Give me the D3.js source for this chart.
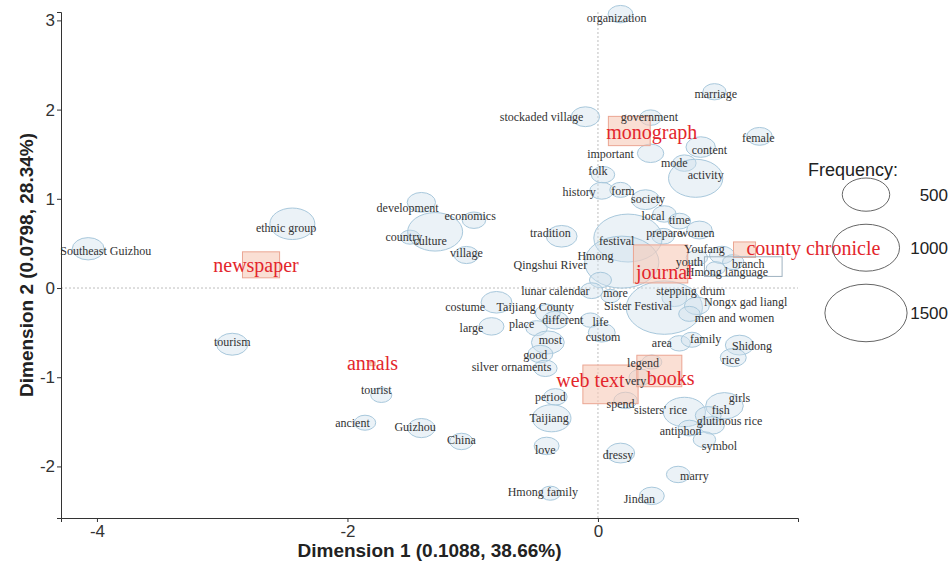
<!DOCTYPE html>
<html>
<head>
<meta charset="utf-8">
<script src="https://cdn.jsdelivr.net/npm/d3@7"></script>
<style>
  body { margin: 0; background: #fff; }
  svg { display: block; }
</style>
</head>
<body>
<svg id="chart" width="950" height="565"></svg>
<script>
// Correspondence analysis: words (ellipses) and text sources (boxes)
const words = ["organization","marriage","stockaded village","government","female","important","content","mode","activity","folk",
  "history","form","society","local","time","prepare","women","festival","Hmong","tradition",
  "youth","Youfang","branch","Hmong language","Qingshui River","lunar calendar","more","stepping drum","costume","Taijiang County",
  "Sister Festival","Nongx gad liangl","men and women","different","life","large","place","custom","most","area",
  "family","Shidong","rice","good","silver ornaments","legend","very","tourist","ancient","Guizhou",
  "China","period","Taijiang","love","Hmong family","spend","sisters' rice","girls","fish","glutinous rice",
  "antiphon","symbol","dressy","marry","Jindan","tourism","Southeast Guizhou","ethnic group","development","economics",
  "country","culture","village"];

const wordX = [0.18,0.93,-0.10,0.42,1.29,0.42,0.82,0.69,0.78,0.04,
  0.03,0.18,0.38,0.53,0.65,0.52,0.81,0.24,0.19,-0.29,
  0.79,0.99,1.08,0.94,0.02,-0.05,0.10,0.61,-0.81,-0.40,
  0.53,0.79,0.73,-0.34,-0.06,-0.85,-0.49,0.03,-0.40,0.65,
  0.75,1.13,1.08,-0.46,-0.42,0.43,0.34,-1.73,-1.86,-1.41,
  -1.09,-0.34,-0.37,-0.41,-0.38,0.22,0.69,1.01,0.88,0.91,
  0.73,0.85,0.18,0.64,0.43,-2.92,-4.07,-2.44,-1.41,-0.99,
  -1.50,-1.30,-1.05];

const wordY = [3.07,2.20,1.92,1.91,1.70,1.51,1.58,1.40,1.23,1.27,
  1.09,1.10,0.99,0.83,0.75,0.58,0.65,0.56,0.29,0.58,
  0.34,0.37,0.29,0.22,0.09,-0.03,-0.09,-0.11,-0.16,-0.28,
  -0.22,-0.20,-0.29,-0.36,-0.36,-0.43,-0.45,-0.50,-0.61,-0.62,
  -0.58,-0.64,-0.78,-0.74,-0.90,-0.83,-1.00,-1.20,-1.51,-1.57,
  -1.72,-1.22,-1.46,-1.77,-2.30,-1.26,-1.39,-1.32,-1.43,-1.54,
  -1.57,-1.70,-1.85,-2.09,-2.33,-0.63,0.44,0.72,0.96,0.76,
  0.57,0.63,0.37];

const wordFreq = [137,119,178,108,144,154,192,122,655,122,
  128,102,178,122,112,112,144,1040,1225,211,
  102,138,102,81,108,112,81,138,211,138,
  1290,138,102,143,93,138,102,161,239,107,
  102,178,150,138,122,89,117,99,102,166,
  122,122,333,138,89,122,394,315,148,138,
  112,112,178,122,138,218,225,449,178,122,
  89,672,133];

// label anchors (repelled positions, in dimension units)
const labelX = [0.15,0.94,-0.45,0.41,1.28,0.10,0.89,0.61,0.86,0.00,
  -0.15,0.20,0.40,0.44,0.65,0.53,0.79,0.15,-0.02,-0.38,
  0.73,0.85,1.20,1.03,-0.38,-0.34,0.14,0.74,-1.06,-0.50,
  0.32,1.18,1.09,-0.28,0.02,-1.01,-0.61,0.04,-0.38,0.51,
  0.86,1.23,1.06,-0.50,-0.69,0.36,0.30,-1.77,-1.96,-1.46,
  -1.09,-0.38,-0.39,-0.42,-0.44,0.18,0.50,1.13,0.98,1.05,
  0.66,0.97,0.16,0.77,0.33,-2.92,-3.93,-2.49,-1.52,-1.02,
  -1.55,-1.34,-1.05];

const labelY = [3.03,2.17,1.91,1.91,1.68,1.50,1.54,1.40,1.27,1.31,
  1.08,1.09,1.00,0.80,0.76,0.61,0.61,0.52,0.36,0.62,
  0.29,0.44,0.27,0.18,0.26,-0.04,-0.06,-0.04,-0.21,-0.22,
  -0.20,-0.16,-0.34,-0.36,-0.38,-0.45,-0.41,-0.55,-0.58,-0.62,
  -0.57,-0.65,-0.81,-0.75,-0.89,-0.84,-1.04,-1.15,-1.52,-1.56,
  -1.70,-1.22,-1.46,-1.82,-2.29,-1.30,-1.37,-1.23,-1.37,-1.49,
  -1.60,-1.77,-1.87,-2.11,-2.37,-0.61,0.41,0.67,0.90,0.80,
  0.57,0.52,0.39];

const sources = ["monograph","newspaper","journal","county chronicle","annals","web text","books"];
const sourceX = [0.25,-2.69,0.50,1.17,-1.80,0.10,0.49];
const sourceY = [1.76,0.26,0.27,0.43,-0.85,-1.08,-0.93];
const sourceFreq = [388,306,655,108,6,677,449];
const sourceLabelX = [0.43,-2.73,0.53,1.72,-1.80,-0.06,0.58];
const sourceLabelY = [1.74,0.25,0.17,0.44,-0.85,-1.04,-1.02];

// outlined label frame near "branch"
const frameX = [0.85,1.47];
const frameY = [0.13,0.35];

const legendValues = [500,1000,1500];
const xTicks = [-4,-2,0];
const yTicks = [-2,-1,0,1,2,3];
const xTitle = "Dimension 1 (0.1088, 38.66%)";
const yTitle = "Dimension 2 (0.0798, 28.34%)";

const svg = d3.select("#chart");
const plot = {left: 61, right: 798, top: 12, bottom: 518};

const x = d3.scaleLinear().domain([-4.287, 1.597]).range([plot.left, plot.right]);
const y = d3.scaleLinear().domain([-2.578, 3.094]).range([plot.bottom, plot.top]);
const rx = d3.scaleSqrt().domain([0, 1500]).range([0, 41.1]);
const ryOf = f => rx(f) * 0.70;

const serif = "'Liberation Serif','Times New Roman',serif";
const sans = "'Liberation Sans',Arial,sans-serif";

// reference lines
svg.append("line")
  .attr("x1", plot.left).attr("x2", plot.right)
  .attr("y1", y(0)).attr("y2", y(0))
  .attr("stroke", "#bdbdbd").attr("stroke-dasharray", "2,2");
svg.append("line")
  .attr("x1", x(0)).attr("x2", x(0))
  .attr("y1", plot.top).attr("y2", plot.bottom)
  .attr("stroke", "#bdbdbd").attr("stroke-dasharray", "2,2");

const wordData = words.map((w, i) => ({
  name: w, x: wordX[i], y: wordY[i], f: wordFreq[i], lx: labelX[i], ly: labelY[i]
}));
const sourceData = sources.map((s, i) => ({
  name: s, x: sourceX[i], y: sourceY[i], f: sourceFreq[i], lx: sourceLabelX[i], ly: sourceLabelY[i]
}));

// word ellipses
svg.append("g").selectAll("ellipse")
  .data(wordData).join("ellipse")
  .attr("cx", d => x(d.x)).attr("cy", d => y(d.y))
  .attr("rx", d => rx(d.f)).attr("ry", d => ryOf(d.f))
  .attr("fill", "#cfe1ec").attr("fill-opacity", 0.42)
  .attr("stroke", "#a8c8dc").attr("stroke-width", 1);

// source boxes
svg.append("g").selectAll("rect")
  .data(sourceData).join("rect")
  .attr("x", d => x(d.x) - rx(d.f)).attr("y", d => y(d.y) - ryOf(d.f))
  .attr("width", d => 2 * rx(d.f)).attr("height", d => 2 * ryOf(d.f))
  .attr("fill", "#f7c9b8").attr("fill-opacity", 0.6)
  .attr("stroke", "#eba592").attr("stroke-width", 1);

// frame
svg.append("rect")
  .attr("x", x(frameX[0])).attr("y", y(frameY[1]))
  .attr("width", x(frameX[1]) - x(frameX[0]))
  .attr("height", y(frameY[0]) - y(frameY[1]))
  .attr("fill", "none").attr("stroke", "#9fb2c0").attr("stroke-width", 1);

// word labels
svg.append("g").selectAll("text")
  .data(wordData).join("text")
  .attr("x", d => x(d.lx)).attr("y", d => y(d.ly))
  .attr("dy", "0.32em")
  .attr("text-anchor", "middle")
  .attr("font-family", serif).attr("font-size", 12)
  .attr("fill", "#333")
  .text(d => d.name);

// source labels
svg.append("g").selectAll("text")
  .data(sourceData).join("text")
  .attr("x", d => x(d.lx)).attr("y", d => y(d.ly))
  .attr("dy", "0.32em")
  .attr("text-anchor", "middle")
  .attr("font-family", serif).attr("font-size", 20)
  .attr("fill", "#e3262c")
  .text(d => d.name);

// axes
const tickFmt = d => String(d);
const axisStyle = g => {
  g.select(".domain").attr("stroke", "#333");
  g.selectAll(".tick line").attr("stroke", "#333");
  g.selectAll(".tick text").attr("fill", "#333")
    .attr("font-family", sans).attr("font-size", 17);
};
svg.append("g")
  .attr("transform", `translate(0,${plot.bottom})`)
  .call(d3.axisBottom(x).tickValues(xTicks).tickFormat(tickFmt).tickSizeOuter(0).tickSize(4).tickPadding(3))
  .call(axisStyle);
svg.append("g")
  .attr("transform", `translate(${plot.left},0)`)
  .call(d3.axisLeft(y).tickValues(yTicks).tickFormat(tickFmt).tickSizeOuter(0).tickSize(4).tickPadding(2))
  .call(axisStyle);

svg.append("text")
  .attr("x", (plot.left + plot.right) / 2).attr("y", 557)
  .attr("text-anchor", "middle")
  .attr("font-family", sans).attr("font-weight", "bold").attr("font-size", 19)
  .attr("fill", "#222")
  .text(xTitle);
svg.append("text")
  .attr("transform", `translate(33,${(plot.top + plot.bottom) / 2}) rotate(-90)`)
  .attr("text-anchor", "middle")
  .attr("font-family", sans).attr("font-weight", "bold").attr("font-size", 19)
  .attr("fill", "#222")
  .text(yTitle);

// legend
const lg = svg.append("g");
lg.append("text")
  .attr("x", 808).attr("y", 176)
  .attr("font-family", sans).attr("font-size", 18).attr("fill", "#222")
  .text("Frequency:");
let cy = 178;
legendValues.forEach((v, i) => {
  const ry = ryOf(v);
  cy += (i === 0 ? 0 : 13) + ry;
  lg.append("ellipse")
    .attr("cx", 866).attr("cy", cy)
    .attr("rx", rx(v)).attr("ry", ry)
    .attr("fill", "none").attr("stroke", "#666").attr("stroke-width", 1);
  lg.append("text")
    .attr("x", 948).attr("y", cy).attr("dy", "0.35em")
    .attr("text-anchor", "end")
    .attr("font-family", sans).attr("font-size", 17).attr("fill", "#222")
    .text(v);
  cy += ry;
});
</script>
</body>
</html>
